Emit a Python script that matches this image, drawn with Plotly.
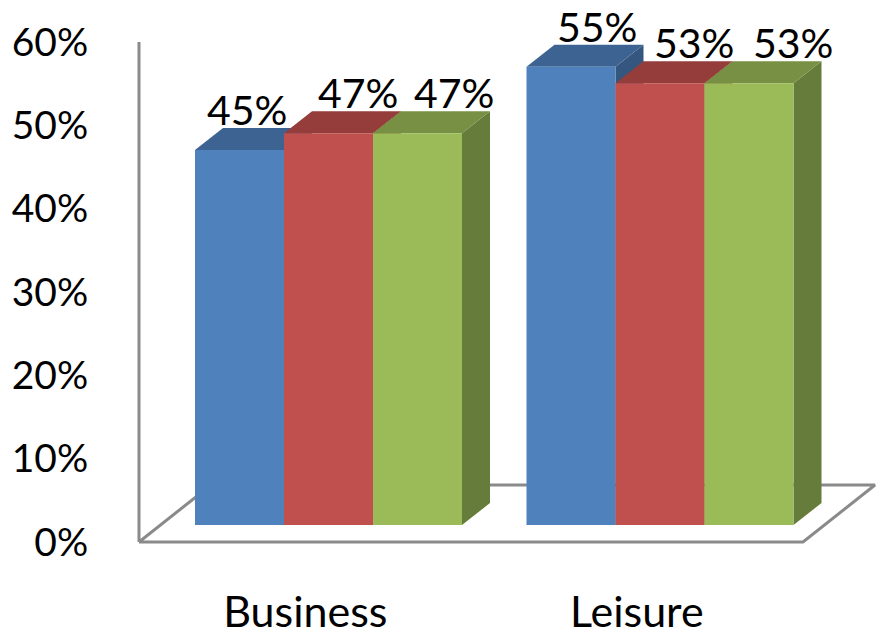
import plotly.graph_objects as go

# ---- data ----
categories = ["Business", "Leisure"]
series_names = ["Series 1", "Series 2", "Series 3"]
series_values = [
    [0.45, 0.55],   # blue
    [0.47, 0.53],   # red
    [0.47, 0.53],   # green
]
y_ticks = [0.0, 0.1, 0.2, 0.3, 0.4, 0.5, 0.6]

# ---- style ----
front_colors = ["#4F81BD", "#C0504D", "#9BBB59"]
top_colors = ["#3D6392", "#943D3B", "#779044"]
side_colors = ["#34567F", "#80322F", "#667C3A"]
FONT = "Lato"
FS = 41
FS_TICK = 39
FS_CAT = 43

PX_X = 331.5      # pixels per x unit (category spacing)
PX_Y = 833.33     # pixels per y unit
bar_w = 89.0 / PX_X
depth_dx = 28.0 / PX_X
depth_dy = 22.0 / PX_Y
bar_base = 17.0 / PX_Y          # front face of bars sits behind floor front edge
floor_left = -189.5 / PX_X
floor_right = 474.5 / PX_X
floor_dx = 72.0 / PX_X
floor_dy = 57.0 / PX_Y
label_dx_px = [[7, 26], [29.5, 34], [36.5, 43.5]]

fig = go.Figure()

# floor (drawn first, bars cover it)
fl = [floor_left, floor_right, floor_right + floor_dx, floor_left + floor_dx, floor_left]
fy = [0, 0, floor_dy, floor_dy, 0]
fig.add_trace(go.Scatter(x=fl, y=fy, mode="lines", fill="toself", fillcolor="white",
                         line=dict(color="#8A8A8A", width=3), hoverinfo="skip",
                         showlegend=False))
# vertical axis line
fig.add_trace(go.Scatter(x=[floor_left, floor_left], y=[0, y_ticks[-1]], mode="lines",
                         line=dict(color="#8A8A8A", width=3), hoverinfo="skip",
                         showlegend=False))

n = len(series_values)
for ci, cat in enumerate(categories):
    for si in range(n):
        v = series_values[si][ci]
        x0 = ci - n * bar_w / 2 + si * bar_w
        x1 = x0 + bar_w
        y0 = bar_base
        y1 = bar_base + v
        # side
        fig.add_trace(go.Scatter(
            x=[x1, x1 + depth_dx, x1 + depth_dx, x1, x1],
            y=[y0, y0 + depth_dy, y1 + depth_dy, y1, y0],
            mode="lines", fill="toself", fillcolor=side_colors[si],
            line=dict(width=0, color=side_colors[si]), hoverinfo="skip", showlegend=False))
        # top
        fig.add_trace(go.Scatter(
            x=[x0, x1, x1 + depth_dx, x0 + depth_dx, x0],
            y=[y1, y1, y1 + depth_dy, y1 + depth_dy, y1],
            mode="lines", fill="toself", fillcolor=top_colors[si],
            line=dict(width=0, color=top_colors[si]), hoverinfo="skip", showlegend=False))
        # front
        fig.add_trace(go.Scatter(
            x=[x0, x1, x1, x0, x0],
            y=[y0, y0, y1, y1, y0],
            mode="lines", fill="toself", fillcolor=front_colors[si],
            line=dict(width=0, color=front_colors[si]), name=series_names[si],
            hoverinfo="skip", showlegend=False))
        fig.add_annotation(
            x=(x0 + x1) / 2 + label_dx_px[si][ci] / PX_X, y=y1 + depth_dy,
            text=f"{round(v * 100)}%", showarrow=False, xanchor="center", yanchor="bottom",
            yshift=-8, font=dict(family=FONT, size=FS, color="black"))

fig.update_layout(
    width=876, height=637,
    margin=dict(l=130, r=0, t=0, b=87, autoexpand=False),
    plot_bgcolor="white", paper_bgcolor="white",
    showlegend=False,
    xaxis=dict(range=[-198.5 / PX_X, 547.5 / PX_X], showgrid=False, zeroline=False,
               showline=False, tickmode="array", automargin=False,
               tickvals=[i - 0.07 for i in range(len(categories))], ticktext=categories,
               ticks="outside", ticklen=24, tickcolor="rgba(0,0,0,0)",
               tickfont=dict(family=FONT, size=FS_CAT, color="black")),
    yaxis=dict(range=[-8.0 / PX_Y, 542.0 / PX_Y], showgrid=False, zeroline=False,
               showline=False, tickmode="array", tickvals=y_ticks, tickformat=".0%",
               automargin=False,
               ticks="outside", ticklen=33, tickcolor="rgba(0,0,0,0)",
               tickfont=dict(family=FONT, size=FS_TICK, color="black")),
)

fig.write_html("out.html", config={"displayModeBar": False},
               post_script="document.body.style.margin='0';")
